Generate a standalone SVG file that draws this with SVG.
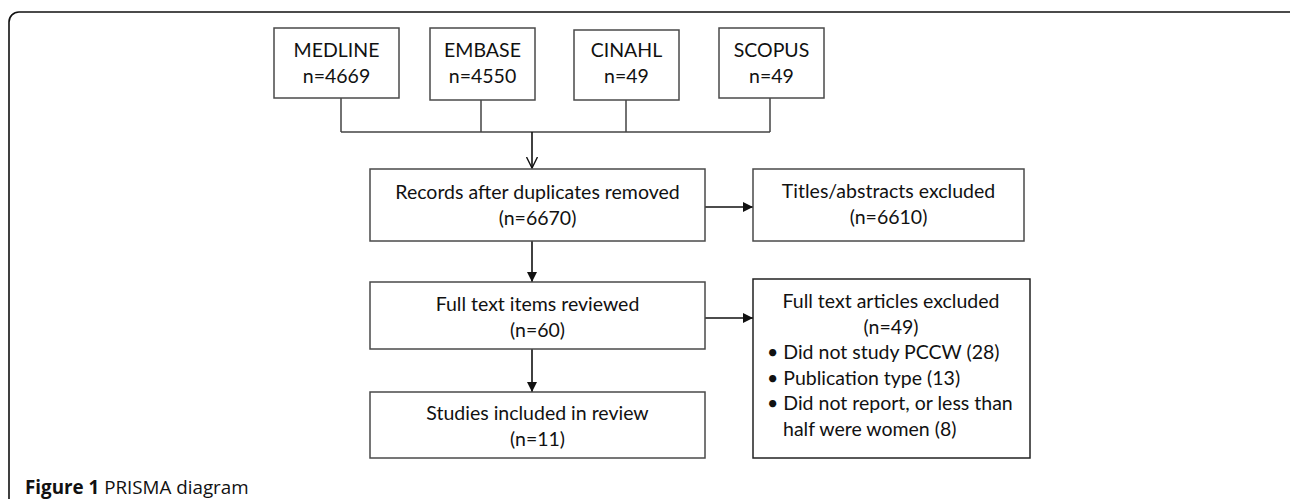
<svg xmlns="http://www.w3.org/2000/svg" width="1290" height="499" viewBox="0 0 1290 499">
<style>
.box{fill:#fff;stroke:#4a4a4a;stroke-width:1.5}
.t{font-family:Lato,"Liberation Sans",sans-serif;font-size:19.5px;fill:#111;text-anchor:middle}
.tl{font-family:Lato,"Liberation Sans",sans-serif;font-size:19.5px;fill:#111}
.ln{fill:none;stroke:#444;stroke-width:1.5}
.ar{fill:none;stroke:#111;stroke-width:1.6}
.cap{font-family:"Open Sans","Liberation Sans",sans-serif;font-size:18.8px;fill:#111}
</style>
<defs>
<marker id="fill" viewBox="0 0 10 10" refX="10" refY="5" markerWidth="10" markerHeight="10" markerUnits="userSpaceOnUse" orient="auto"><path d="M0,0 L10,5 L0,10 Z" fill="#111"/></marker>
<marker id="open" viewBox="0 0 12 12" refX="11" refY="6" markerWidth="12" markerHeight="12" markerUnits="userSpaceOnUse" orient="auto"><path d="M0,0.5 L11,6 L0,11.5" fill="none" stroke="#111" stroke-width="1.4"/></marker>
</defs>
<rect x="9" y="12" width="1290" height="520" rx="10" ry="10" fill="none" stroke="#111" stroke-width="1.6"/>
<g id="connectors">
<path class="ln" d="M341,98 V132 M481,100 V132 M626,100 V132 M770,98 V132 M341,132 H770"/>
<path class="ar" d="M532,132 V168" marker-end="url(#open)"/>
<path class="ar" d="M705,207 H753" marker-end="url(#fill)"/>
<path class="ar" d="M532,241 V282" marker-end="url(#fill)"/>
<path class="ar" d="M705,318 H753" marker-end="url(#fill)"/>
<path class="ar" d="M532,349 V392" marker-end="url(#fill)"/>
</g>
<g id="medline"><rect class="box" x="274" y="28" width="125" height="70"/><text class="t" x="336.5" y="57">MEDLINE</text><text class="t" x="336.5" y="83">n=4669</text></g>
<g id="embase"><rect class="box" x="430" y="28" width="105" height="72"/><text class="t" x="482.5" y="57">EMBASE</text><text class="t" x="482.5" y="83">n=4550</text></g>
<g id="cinahl"><rect class="box" x="574" y="30" width="105" height="70"/><text class="t" x="626.5" y="57">CINAHL</text><text class="t" x="626.5" y="83">n=49</text></g>
<g id="scopus"><rect class="box" x="719" y="28" width="105" height="70"/><text class="t" x="771.5" y="57">SCOPUS</text><text class="t" x="771.5" y="83">n=49</text></g>
<g id="records"><rect class="box" x="370" y="169" width="335" height="72"/><text class="t" x="537.5" y="199">Records after duplicates removed</text><text class="t" x="537.5" y="225">(n=6670)</text></g>
<g id="titles"><rect class="box" x="753" y="169" width="271" height="72"/><text class="t" x="888.5" y="198">Titles/abstracts excluded</text><text class="t" x="888.5" y="224">(n=6610)</text></g>
<g id="fulltext"><rect class="box" x="370" y="282" width="335" height="67"/><text class="t" x="537.5" y="311">Full text items reviewed</text><text class="t" x="537.5" y="337">(n=60)</text></g>
<g id="studies"><rect class="box" x="370" y="392" width="335" height="66"/><text class="t" x="537.5" y="420">Studies included in review</text><text class="t" x="537.5" y="446">(n=11)</text></g>
<g id="excluded"><rect x="753" y="279" width="277" height="179" fill="#fff" stroke="#222" stroke-width="1.5"/>
<text class="t" x="891" y="308">Full text articles excluded</text>
<text class="t" x="891" y="334">(n=49)</text>
<text class="tl" x="767" y="359">• Did not study PCCW (28)</text>
<text class="tl" x="767" y="385">• Publication type (13)</text>
<text class="tl" x="767" y="410">• Did not report, or less than</text>
<text class="tl" x="783" y="436">half were women (8)</text>
</g>
<text class="cap" x="25" y="494"><tspan font-weight="bold">Figure 1</tspan> PRISMA diagram</text>
</svg>
